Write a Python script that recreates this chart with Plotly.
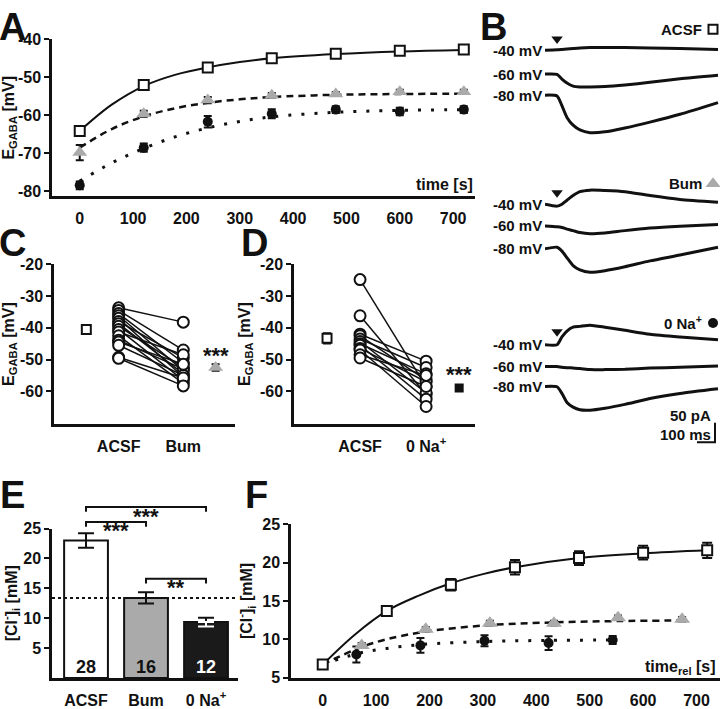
import plotly.graph_objects as go

FONT = "Liberation Sans, Arial, Helvetica, sans-serif"
W, H = 720, 709
BLACK = "#111111"
GRAY = "#aaaaaa"


def px_x(p):
    return p / W


def px_y(p):
    return 1 - p / H


# ---------------- Panel A : E_GABA vs time ----------------
a_time = [0, 120, 240, 360, 480, 600, 720]
a_acsf = [-64.1, -52.0, -47.4, -45.0, -43.8, -43.0, -42.7]
a_acsf_err = [0.6, 0.5, 0.5, 0.5, 0.5, 0.4, 0.4]
a_bum = [-69.8, -59.6, -56.0, -54.7, -54.4, -53.8, -53.8]
a_bum_err = [2.0, 0.8, 0.8, 0.6, 0.5, 0.5, 0.5]
a_na0 = [-78.4, -68.5, -61.7, -59.6, -58.5, -59.0, -58.5]
a_na0_err = [1.0, 1.1, 1.5, 1.2, 0.9, 1.0, 0.9]
a_fit_time = [0, 60, 120, 180, 240, 300, 360, 480, 600, 720]
a_fit_acsf = [-64.1, -57.2, -52.3, -49.3, -47.4, -46.0, -45.0, -43.9, -43.2, -42.8]
a_fit_bum = [-68.5, -63.6, -60.3, -58.1, -56.7, -55.8, -55.2, -54.6, -54.4, -54.3]
a_fit_na0 = [-77.3, -72.5, -68.7, -65.6, -63.3, -61.6, -60.4, -59.2, -58.7, -58.5]
a_xticks = [0, 100, 200, 300, 400, 500, 600, 700]
a_yticks = [-80, -70, -60, -50, -40]
a_yticklabels = ["-80", "-70", "-60", "-50", "-40"]

# ---------------- Panel B : current traces (ms, pA) ----------------
b_time_ms = [0, 67, 94, 122, 156, 194, 250, 333, 444, 583, 750, 961]
b_acsf_m40 = [0, 1, 2, 3, 4.5, 6, 7, 7, 7, 6, 4.5, 2]
b_acsf_m60 = [0, -0.75, -13, -23, -31, -33, -33, -32, -28, -21, -12, -3]
b_acsf_m80 = [0, -2, -27, -57, -77, -89, -96, -94, -84, -69, -49, -19]
b_bum_m40 = [0, -5, 0, 10, 22, 32, 36, 35, 32, 22, 12, 5]
b_bum_m60 = [0, -2, -4, -8, -12, -17, -20, -18, -12, -5.5, -0.5, 4]
b_bum_m80 = [0, 4, -6, -23, -43, -54, -60, -56, -46, -31, -16, 4]
b_na0_m40 = [0, 0, 20, 35, 45, 47, 50, 45, 37, 27, 20, 12.5]
b_na0_m60 = [0, 0, -2, -3, -4, -5, -8, -8, -7, -4, -2, 1.5]
b_na0_m80 = [0, -1, -18, -41, -53, -60, -61, -56, -46, -31, -18, -6]
b_holding = ["-40 mV", "-60 mV", "-80 mV"]
b_stim_ms = 67
b_scale_pA = 50
b_scale_ms = 100

# ---------------- Panel C : ACSF vs Bum ----------------
c_acsf = [-33.7, -34.5, -35.5, -36.2, -37.0, -38.0, -38.7, -39.5,
          -40.5, -41.3, -42.5, -43.9, -44.5, -45.5, -49.3, -49.6]
c_bum = [-38.2, -47.0, -51.0, -53.5, -55.5, -49.5, -54.5, -52.5,
         -56.5, -48.5, -57.5, -53.0, -51.5, -55.0, -55.8, -58.3]
c_mean_acsf, c_sem_acsf = -40.5, 0.8
c_mean_bum, c_sem_bum = -52.5, 1.0
c_categories = ["ACSF", "Bum"]

# ---------------- Panel D : ACSF vs 0 Na+ ----------------
d_acsf = [-24.8, -36.2, -42.0, -42.5, -43.5, -44.3, -45.0, -45.5, -46.5, -47.0, -48.5, -49.5]
d_na0 = [-58.5, -61.0, -50.5, -56.5, -52.5, -60.5, -54.5, -62.5, -57.0, -64.8, -55.0, -58.5]
d_mean_acsf, d_sem_acsf = -43.3, 1.6
d_mean_na0, d_sem_na0 = -59.0, 0.8
d_categories = ["ACSF", "0 Na<sup>+</sup>"]
cd_yticks = [-60, -50, -40, -30, -20]
cd_yticklabels = ["-60", "-50", "-40", "-30", "-20"]

# ---------------- Panel E : [Cl-]i bars ----------------
e_groups = ["ACSF", "Bum", "0 Na<sup>+</sup>"]
e_means = [23.0, 13.4, 9.35]
e_sem = [1.2, 0.95, 0.72]
e_n = [28, 16, 12]
e_yticks = [5, 10, 15, 20, 25]

# ---------------- Panel F : [Cl-]i vs relative time ----------------
f_time_acsf = [0, 120, 240, 360, 480, 600, 720]
f_acsf = [6.7, 13.7, 17.1, 19.4, 20.6, 21.3, 21.6]
f_acsf_err = [0.3, 0.4, 0.75, 0.95, 0.9, 0.9, 1.0]
f_time_bum = [73, 193, 313, 433, 553, 673]
f_bum = [9.2, 11.3, 12.1, 12.1, 12.8, 12.6]
f_bum_err = [0.3, 0.3, 0.3, 0.3, 0.3, 0.3]
f_time_na0 = [63, 183, 303, 423, 543]
f_na0 = [8.0, 9.2, 9.8, 9.5, 9.9]
f_na0_err = [1.05, 0.95, 0.72, 0.9, 0.53]
f_fit_time_acsf = [0, 60, 120, 180, 240, 300, 360, 480, 600, 720]
f_fit_acsf = [6.7, 10.6, 13.7, 15.7, 17.3, 18.5, 19.4, 20.6, 21.2, 21.6]
f_fit_time_bum = [0, 30, 73, 120, 193, 313, 433, 553, 673]
f_fit_bum = [6.7, 7.7, 9.0, 10.0, 11.0, 11.85, 12.2, 12.37, 12.45]
f_fit_time_na0 = [0, 63, 120, 183, 303, 423, 543]
f_fit_na0 = [6.7, 8.1, 8.8, 9.3, 9.7, 9.85, 9.9]
f_xticks = [0, 100, 200, 300, 400, 500, 600, 700]
f_yticks = [5, 10, 15, 20, 25]

fig = go.Figure()

SOLID = dict(color=BLACK, width=2)
DASHED = dict(color=BLACK, width=2.5, dash="7px,5px")
DOTTED = dict(color=BLACK, width=3, dash="3px,10px")


def errs(arr, color=BLACK, width=4):
    return dict(type="data", array=arr, color=color, thickness=2, width=width, visible=True)


# ---- A ----
for t, v, ln in [(a_fit_time, a_fit_acsf, SOLID), (a_fit_time, a_fit_bum, DASHED),
                 (a_fit_time, a_fit_na0, DOTTED)]:
    fig.add_trace(go.Scatter(x=t, y=v, mode="lines", line=dict(shape="spline", **ln),
                             xaxis="x", yaxis="y", showlegend=False, hoverinfo="skip"))
fig.add_trace(go.Scatter(x=a_time, y=a_na0, mode="markers", error_y=errs(a_na0_err),
                         marker=dict(symbol="circle", size=10, color=BLACK),
                         xaxis="x", yaxis="y", showlegend=False))
fig.add_trace(go.Scatter(x=a_time, y=a_bum, mode="markers", error_y=errs(a_bum_err),
                         marker=dict(symbol="triangle-up", size=13, color=GRAY),
                         xaxis="x", yaxis="y", showlegend=False))
fig.add_trace(go.Scatter(x=a_time, y=a_acsf, mode="markers", error_y=errs(a_acsf_err),
                         marker=dict(symbol="square", size=10, color="white",
                                     line=dict(color=BLACK, width=2)),
                         xaxis="x", yaxis="y", showlegend=False, cliponaxis=False))

# ---- B ----
PXPA = 0.4   # px per pA
PXMS = 0.18  # px per ms
b_groups = [
    ("ACSF", [b_acsf_m40, b_acsf_m60, b_acsf_m80], [43.3, 67.7, 89.3], 31.7, 21.7,
     dict(symbol="square", size=9, color="white", line=dict(color=BLACK, width=2))),
    ("Bum", [b_bum_m40, b_bum_m60, b_bum_m80], [201, 223.3, 246.7], 189.3, 180,
     dict(symbol="triangle-up", size=13, color=GRAY)),
    ("0 Na<sup>+</sup>", [b_na0_m40, b_na0_m60, b_na0_m80], [345, 367.3, 387.7], 331.7, 322.7,
     dict(symbol="circle", size=10, color=BLACK)),
]
label_t = (713 - 545) / PXMS
annotations = []
for name, traces, bases, stim_py, lab_py, mk in b_groups:
    for tr, base, hold in zip(traces, bases, b_holding):
        off = -base / PXPA
        fig.add_trace(go.Scatter(x=b_time_ms, y=[off + v for v in tr], mode="lines",
                                 line=dict(color=BLACK, width=3, shape="spline", smoothing=0.6),
                                 xaxis="x2", yaxis="y2", showlegend=False, hoverinfo="skip"))
        annotations.append(dict(x=0, y=off, xref="x2", yref="y2", text=hold, showarrow=False,
                                xanchor="right", yanchor="middle", xshift=-1,
                                font=dict(family=FONT, size=15, color=BLACK, weight="bold")))
    fig.add_trace(go.Scatter(x=[b_stim_ms], y=[-stim_py / PXPA], mode="markers",
                             marker=dict(symbol="triangle-down", size=10, color=BLACK),
                             xaxis="x2", yaxis="y2", showlegend=False, cliponaxis=False))
    fig.add_trace(go.Scatter(x=[label_t], y=[-lab_py / PXPA], mode="markers", marker=mk,
                             xaxis="x2", yaxis="y2", showlegend=False, cliponaxis=False))
    annotations.append(dict(x=label_t, y=-lab_py / PXPA, xref="x2", yref="y2", text=name,
                            showarrow=False, xanchor="right", yanchor="middle", xshift=-9,
                            font=dict(family=FONT, size=15, color=BLACK, weight="bold")))

# scale bar
sb_t1 = (715 - 545) / PXMS
sb_y0 = -445 / PXPA
fig.add_trace(go.Scatter(x=[sb_t1 - b_scale_ms, sb_t1, sb_t1], y=[sb_y0, sb_y0, sb_y0 + b_scale_pA],
                         mode="lines", line=dict(color=BLACK, width=2),
                         xaxis="x2", yaxis="y2", showlegend=False, hoverinfo="skip"))
annotations.append(dict(x=sb_t1, y=sb_y0 + b_scale_pA, xref="x2", yref="y2", text=f"{b_scale_pA} pA",
                        showarrow=False, xanchor="right", yanchor="middle", xshift=-2, yshift=7,
                        font=dict(family=FONT, size=15, color=BLACK, weight="bold")))
annotations.append(dict(x=sb_t1, y=sb_y0, xref="x2", yref="y2", text=f"{b_scale_ms} ms",
                        showarrow=False, xanchor="right", yanchor="bottom", xshift=-2, yshift=-3,
                        font=dict(family=FONT, size=15, color=BLACK, weight="bold")))

# ---- C & D ----
OPEN_CIRCLE = dict(symbol="circle", size=11, color="white", line=dict(color=BLACK, width=2))
for xa, ya, left, right, m1, s1, m2, s2, mk1, mk2 in [
    ("x3", "y3", c_acsf, c_bum, c_mean_acsf, c_sem_acsf, c_mean_bum, c_sem_bum,
     dict(symbol="square", size=9, color="white", line=dict(color=BLACK, width=2)),
     dict(symbol="triangle-up", size=13, color=GRAY)),
    ("x4", "y4", d_acsf, d_na0, d_mean_acsf, d_sem_acsf, d_mean_na0, d_sem_na0,
     dict(symbol="square", size=9, color="white", line=dict(color=BLACK, width=2)),
     dict(symbol="square", size=9, color=BLACK)),
]:
    for l, r in zip(left, right):
        fig.add_trace(go.Scatter(x=[1, 2], y=[l, r], mode="lines", line=dict(color=BLACK, width=1.5),
                                 xaxis=xa, yaxis=ya, showlegend=False, hoverinfo="skip"))
    fig.add_trace(go.Scatter(x=[1] * len(left) + [2] * len(right), y=left + right, mode="markers",
                             marker=OPEN_CIRCLE, xaxis=xa, yaxis=ya, showlegend=False))
    fig.add_trace(go.Scatter(x=[0.5], y=[m1], mode="markers", marker=mk1, error_y=errs([s1]),
                             xaxis=xa, yaxis=ya, showlegend=False))
    fig.add_trace(go.Scatter(x=[2.5], y=[m2], mode="markers", marker=mk2, error_y=errs([s2]),
                             xaxis=xa, yaxis=ya, showlegend=False))

# ---- E ----
fig.add_trace(go.Bar(x=[0, 1, 2], y=e_means, width=0.73,
                     marker=dict(color=["white", GRAY, "#1a1a1a"], line=dict(color=BLACK, width=2)),
                     error_y=errs(e_sem, width=8),
                     xaxis="x5", yaxis="y5", showlegend=False))
fig.add_trace(go.Scatter(x=[2], y=[e_means[2]], mode="markers",
                         marker=dict(size=1, color="rgba(0,0,0,0)"),
                         error_y=dict(type="data", symmetric=False, array=[0], arrayminus=[e_sem[2]],
                                      color="white", thickness=2, width=8),
                         xaxis="x5", yaxis="y5", showlegend=False))
for i, n in enumerate(e_n):
    annotations.append(dict(x=i, y=0, xref="x5", yref="y5", text=str(n), showarrow=False,
                            yanchor="bottom", yshift=-1,
                            font=dict(family=FONT, size=18, weight="bold",
                                      color="white" if i == 2 else BLACK)))
# significance brackets (separate taller axis sharing the E x-axis)
brackets = [(0, 2, 28.6, "***", 27.0), (0, 1, 26.1, "***", 24.6), (1, 2, 16.6, "**", 15.1)]
for x0, x1, yb, stars, ys in brackets:
    fig.add_trace(go.Scatter(x=[x0, x0, x1, x1], y=[yb - 0.8, yb, yb, yb - 0.8], mode="lines",
                             line=dict(color=BLACK, width=2), xaxis="x5", yaxis="y7",
                             showlegend=False, hoverinfo="skip"))
    annotations.append(dict(x=(x0 + x1) / 2, y=ys, xref="x5", yref="y7", text=stars, showarrow=False,
                            yanchor="middle",
                            font=dict(family=FONT, size=22, color=BLACK, weight="bold")))

# ---- F ----
for t, v, ln in [(f_fit_time_acsf, f_fit_acsf, SOLID), (f_fit_time_bum, f_fit_bum, DASHED),
                 (f_fit_time_na0, f_fit_na0, DOTTED)]:
    fig.add_trace(go.Scatter(x=t, y=v, mode="lines", line=dict(shape="spline", **ln),
                             xaxis="x6", yaxis="y6", showlegend=False, hoverinfo="skip"))
fig.add_trace(go.Scatter(x=f_time_na0, y=f_na0, mode="markers", error_y=errs(f_na0_err),
                         marker=dict(symbol="circle", size=10, color=BLACK),
                         xaxis="x6", yaxis="y6", showlegend=False))
fig.add_trace(go.Scatter(x=f_time_bum, y=f_bum, mode="markers", error_y=errs(f_bum_err),
                         marker=dict(symbol="triangle-up", size=14, color=GRAY),
                         xaxis="x6", yaxis="y6", showlegend=False))
fig.add_trace(go.Scatter(x=f_time_acsf, y=f_acsf, mode="markers", error_y=errs(f_acsf_err, width=5),
                         marker=dict(symbol="square", size=10, color="white",
                                     line=dict(color=BLACK, width=2)),
                         xaxis="x6", yaxis="y6", showlegend=False, cliponaxis=False))

# ---------------- layout ----------------
TICKFONT = dict(family=FONT, size=16, color=BLACK, weight="bold")
TITLEFONT = dict(family=FONT, size=16, color=BLACK, weight="bold")
base = dict(showline=True, linecolor=BLACK, linewidth=2.5, showgrid=False, zeroline=False,
            mirror=False, tickfont=TICKFONT)
xbase = dict(base, ticks="outside", ticklen=6, tickcolor="rgba(0,0,0,0)")
ybase = dict(base, ticks="outside", ticklen=5, tickwidth=2, tickcolor=BLACK)

layout_axes = dict(
    xaxis=dict(xbase, domain=[px_x(52), px_x(475)], range=[-52, 741], anchor="y", tickvals=a_xticks),
    yaxis=dict(ybase, domain=[px_y(193), px_y(32)], range=[-81.3, -40], anchor="x",
               tickvals=a_yticks, ticktext=a_yticklabels,
               title=dict(text="E<sub>GABA</sub> [mV]", font=TITLEFONT, standoff=6)),
    xaxis2=dict(domain=[px_x(545), 1.0], range=[0, 175 / PXMS], anchor="y2", visible=False),
    yaxis2=dict(domain=[px_y(450), 1.0], range=[-450 / PXPA, 0], anchor="x2", visible=False),
    xaxis3=dict(xbase, domain=[px_x(54), px_x(235)], range=[0, 2.8], anchor="y3",
                tickvals=[1, 2], ticktext=c_categories),
    yaxis3=dict(ybase, domain=[px_y(426), px_y(262.7)], range=[-70.25, -20], anchor="x3",
                tickvals=cd_yticks, ticktext=cd_yticklabels,
                title=dict(text="E<sub>GABA</sub> [mV]", font=TITLEFONT, standoff=6)),
    xaxis4=dict(xbase, domain=[px_x(294), px_x(475)], range=[0, 2.74], anchor="y4",
                tickvals=[1, 2], ticktext=d_categories),
    yaxis4=dict(ybase, domain=[px_y(426), px_y(262.7)], range=[-70.25, -20], anchor="x4",
                tickvals=cd_yticks, ticktext=cd_yticklabels,
                title=dict(text="E<sub>GABA</sub> [mV]", font=TITLEFONT, standoff=6)),
    xaxis5=dict(xbase, domain=[px_x(52), px_x(238)], range=[-0.567, 2.533], anchor="y5",
                tickvals=[0, 1, 2], ticktext=e_groups),
    yaxis5=dict(ybase, domain=[px_y(686.5), px_y(533.3)], range=[0, 25], anchor="x5",
                tickvals=e_yticks,
                title=dict(text="[Cl<sup>-</sup>]<sub>i</sub> [mM]", font=TITLEFONT, standoff=6)),
    yaxis7=dict(domain=[px_y(686.5), px_y(500)], range=[0, 25 * 186.5 / 153.2], anchor="x5",
                visible=False),
    xaxis6=dict(xbase, domain=[px_x(291), 1.0], range=[-59.4, 744], anchor="y6", tickvals=f_xticks),
    yaxis6=dict(ybase, domain=[px_y(686), px_y(529)], range=[5, 25], anchor="x6",
                tickvals=f_yticks,
                title=dict(text="[Cl<sup>-</sup>]<sub>i</sub> [mM]", font=TITLEFONT, standoff=6)),
)

# e dotted reference line at the Bum level
shapes = [dict(type="line", xref="x5 domain", yref="y5", x0=0, x1=1, y0=e_means[1], y1=e_means[1],
               line=dict(color=BLACK, width=2, dash="dot"))]

# star annotations C / D, axis-corner labels, panel letters
annotations += [
    dict(x=2.5, y=-48.6, xref="x3", yref="y3", text="***", showarrow=False,
         font=dict(family=FONT, size=22, color=BLACK, weight="bold")),
    dict(x=2.5, y=-54.7, xref="x4", yref="y4", text="***", showarrow=False,
         font=dict(family=FONT, size=22, color=BLACK, weight="bold")),
    dict(x=px_x(475), y=px_y(181), xref="paper", yref="paper", text="time [s]", showarrow=False,
         xanchor="right", yanchor="middle", font=TITLEFONT),
    dict(x=px_x(718), y=px_y(676), xref="paper", yref="paper", text="time<sub>rel</sub> [s]",
         showarrow=False, xanchor="right", yanchor="middle", font=TITLEFONT),
]
LETTERFONT = dict(family=FONT, size=38, color=BLACK, weight="bold")
for letter, cx in [("A", 13), ("B", 493)]:
    annotations.append(dict(x=px_x(cx), y=1.0, xref="paper", yref="paper", text=letter,
                            showarrow=False, xanchor="center", yanchor="top", yshift=4,
                            font=LETTERFONT))
for letter, cx, cy in [("C", 13, 241), ("D", 254, 241), ("E", 12, 499), ("F", 256, 499)]:
    annotations.append(dict(x=px_x(cx), y=px_y(cy), xref="paper", yref="paper", text=letter,
                            showarrow=False, xanchor="center", yanchor="middle", font=LETTERFONT))

fig.update_layout(width=W, height=H, margin=dict(l=0, r=0, t=0, b=0),
                  paper_bgcolor="white", plot_bgcolor="rgba(0,0,0,0)",
                  annotations=annotations, shapes=shapes, **layout_axes)

fig.write_html("out.html", config={"displayModeBar": False},
               post_script="document.body.style.margin='0';document.body.style.overflow='hidden';")
